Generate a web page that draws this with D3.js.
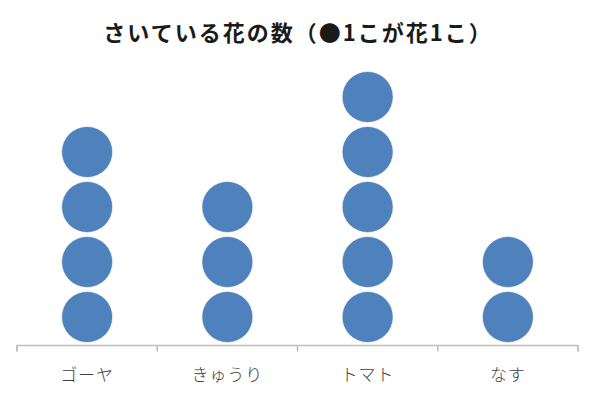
<!DOCTYPE html>
<html><head><meta charset="utf-8">
<script src="https://cdn.jsdelivr.net/npm/d3@7"></script>
<style>body{margin:0;background:#fff}svg{display:block}</style>
</head><body>
<svg id="c" width="600" height="404"></svg>
<script>
const title = "さいている花の数（●1こが花1こ）";
const categories = ["ゴーヤ", "きゅうり", "トマト", "なす"];
const counts = [4, 3, 5, 2];

const svg = d3.select("#c");
const W = 600, H = 404;
const left = 17, right = 578, axisY = 345.5;

const x = d3.scaleBand().domain(categories).range([left, right]).padding(0);
const y = d3.scaleLinear().domain([0, 5]).range([axisY, 70.5]);

svg.append("rect").attr("width", W).attr("height", H).attr("fill", "#fff");

svg.append("text").attr("x", 298).attr("y", 41).attr("text-anchor", "middle")
  .attr("font-family", "'Noto Sans CJK JP', sans-serif").attr("font-weight", "bold")
  .attr("font-size", 22).attr("letter-spacing", 2).attr("fill", "#1a1a1a").text(title);

const dots = [];
categories.forEach((c, i) => { for (let k = 0; k < counts[i]; k++) dots.push({c, k}); });

const r = (y(0) - y(1)) / 2 - 2;
svg.append("g").selectAll("circle").data(dots).join("circle")
  .attr("cx", d => x(d.c) + x.bandwidth() / 2)
  .attr("cy", d => y(d.k + 0.5) - 1)
  .attr("r", r)
  .attr("fill", "#4f81bd")
  .attr("stroke", "#ffffff").attr("stroke-opacity", 0.6).attr("stroke-width", 1);

const axis = d3.axisBottom(x).tickSize(6).tickSizeOuter(6).tickFormat(d => d);
const g = svg.append("g").attr("transform", `translate(0,${axisY})`).call(axis);
g.select(".domain").attr("stroke", "#bfbfbf").attr("stroke-width", 1.5);
g.selectAll(".tick line").remove();
const bounds = categories.map(c => x(c)).concat([right]);
g.selectAll(".btick").data(bounds).join("line").attr("class", "btick")
  .attr("x1", d => d).attr("x2", d => d).attr("y1", 0).attr("y2", 6)
  .attr("stroke", "#bfbfbf").attr("stroke-width", 1.5);
g.selectAll(".tick text").attr("y", 23)
  .attr("font-family", "'Noto Sans CJK JP', sans-serif").attr("font-size", 17)
  .attr("font-weight", 300).attr("letter-spacing", 1)
  .attr("fill", "#404040");
g.select(".domain").attr("d", `M${left},6V0H${right}V6`);
</script>
</body></html>
